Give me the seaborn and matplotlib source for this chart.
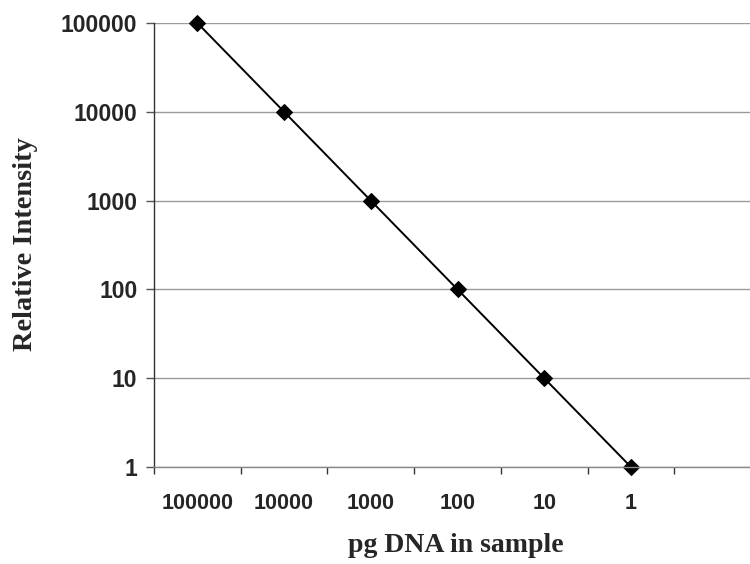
import matplotlib
matplotlib.use("Agg")
import matplotlib.pyplot as plt
import matplotlib.ticker as mticker
import seaborn as sns
import pandas as pd

categories = ["100000", "10000", "1000", "100", "10", "1"]
intensity = [100000, 10000, 1000, 100, 10, 1]
y_ticks = [1, 10, 100, 1000, 10000, 100000]

sns.set_theme(style="white")
plt.rcParams["font.family"] = ["Liberation Sans", "DejaVu Sans"]

df = pd.DataFrame({"pg": categories, "ri": intensity})

fig = plt.figure(figsize=(7.5, 5.64), dpi=100)
W, H = 750, 564
left, right, top, bottom = 154, 761, 23, 467
ax = fig.add_axes([left / W, 1 - bottom / H, (right - left) / W, (bottom - top) / H])

sns.lineplot(data=df, x="pg", y="ri", ax=ax, color="black", linewidth=1.4,
             marker="D", markersize=8.5, markeredgecolor="black", sort=False)
for ln in ax.lines:
    ln.set_clip_on(False)

ax.set_yscale("log")
ax.set_ylim(1, 100000)
ax.yaxis.set_major_locator(mticker.FixedLocator(y_ticks))
ax.yaxis.set_major_formatter(mticker.FixedFormatter([str(v) for v in y_ticks]))
ax.yaxis.set_minor_locator(mticker.NullLocator())
ax.grid(axis="y", color="#9a9a9a", linewidth=1.0)
ax.set_axisbelow(True)

n = len(categories) + 1
ax.set_xlim(-0.5, n - 0.5)
ax.set_xticks([i - 0.5 for i in range(n + 1)])
ax.set_xticklabels([])
ax.set_xticks(list(range(len(categories))), minor=True)
ax.set_xticklabels(categories, minor=True)
ax.tick_params(axis="x", which="major", length=5, width=1, color="#333333", direction="out", bottom=True)
ax.tick_params(axis="x", which="minor", length=0, pad=19, labelsize=15.5, bottom=True)
ax.tick_params(axis="y", which="major", length=6, width=1, color="#555555", direction="out", left=True,
               labelsize=16.5, pad=6)
for lbl in ax.get_xticklabels(minor=True) + ax.get_yticklabels():
    lbl.set_fontweight("bold")

for s in ["top", "right"]:
    ax.spines[s].set_visible(False)
ax.spines["left"].set_color("#333333")
ax.spines["bottom"].set_color("#888888")
ax.spines["left"].set_linewidth(1.0)
ax.spines["bottom"].set_linewidth(1.0)

ax.set_xlabel("")
ax.set_ylabel("")
fig.text(456 / W, 1 - 545 / H, "pg DNA in sample", ha="center", va="center",
         fontsize=20, fontweight="bold", family=["Liberation Serif", "DejaVu Serif"])
fig.text(26 / W, 1 - 244 / H, "Relative Intensity", ha="center", va="center", rotation=90,
         fontsize=20.4, fontweight="bold", family=["Liberation Serif", "DejaVu Serif"])

fig.savefig("out.png", dpi=100)
